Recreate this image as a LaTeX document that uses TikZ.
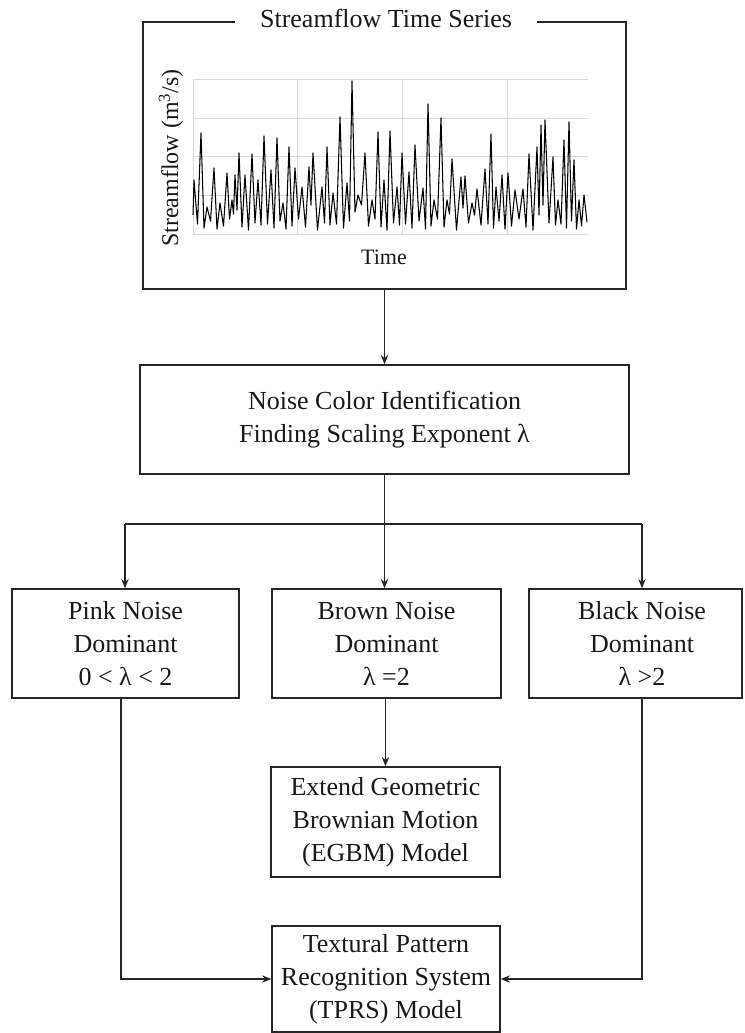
\documentclass[tikz,border=0pt]{standalone}
\usepackage{fontspec}
\setmainfont{Liberation Serif}
\usetikzlibrary{arrows.meta}
\begin{document}
\begin{tikzpicture}[x=0.75pt,y=-0.75pt,
  box/.style={draw=black!85, line width=1pt, rectangle, inner sep=0pt, font=\fontsize{19.5}{24.75}\selectfont, align=center, text=black!90},
  lbl/.style={font=\fontsize{19.5}{24.75}\selectfont, align=center, inner sep=0pt, text=black!90},
  arr/.style={line width=0.9pt, draw=black!85, -{Stealth[length=7pt,width=5.5pt]}},
  conn/.style={line width=0.9pt, draw=black!85},
  gridline/.style={draw=black!15, line width=0.6pt},
  series/.style={draw=black, line width=0.8pt, line join=round}]
\useasboundingbox (0,0) rectangle (744,1033);

% top panel
\node[draw=black!85, line width=1.4pt, minimum width=483*0.75pt, minimum height=267*0.75pt, inner sep=0pt] (ts) at (384.5,155.5) {};
\node[fill=white, inner xsep=19pt, inner ysep=2pt, font=\fontsize{19.5}{24}\selectfont, text=black!90] (title) at (386,18) {Streamflow Time Series};

\foreach \yy in {79,118,156,195,234} \draw[gridline] (193,\yy) -- (588,\yy);
\foreach \xx in {193,297,402,507} \draw[gridline] (\xx,79) -- (\xx,234);

\draw[series] (193,215)
 -- (194,180) -- (197.5,224) -- (201,133) -- (204,228) -- (207,207) -- (210.5,221)
 -- (214,168) -- (217,229) -- (220,203) -- (223.5,226) -- (227,173) -- (229.5,219)
 -- (232,200) -- (233.5,214) -- (235,175) -- (237,210) -- (239,153) -- (242,227)
 -- (245,175) -- (248.5,230) -- (252,154) -- (255,223) -- (258,180) -- (261,225)
 -- (264,136) -- (267.5,224) -- (271,170) -- (274,228) -- (277,138) -- (280,221)
 -- (283,203) -- (286,229) -- (289,147) -- (292,226) -- (295,168) -- (298.5,219)
 -- (302,187) -- (305.5,227) -- (309,167) -- (311,205) -- (313,153) -- (317.5,230)
 -- (322,187) -- (324.5,223) -- (327,147) -- (330,225) -- (333,193) -- (336.5,224)
 -- (340,117) -- (343.5,228) -- (347,183) -- (349.5,221) -- (352,81) -- (355,212)
 -- (358,195) -- (361.5,205) -- (365,153) -- (368.5,226) -- (372,200) -- (375,219)
 -- (378,132) -- (381,227) -- (384,180) -- (387,230) -- (390,131) -- (393.5,223)
 -- (397,187) -- (399.5,225) -- (402,153) -- (405.5,224) -- (409,172) -- (412,228)
 -- (415,145) -- (419,221) -- (423,188) -- (425.5,229) -- (428,104) -- (431,226)
 -- (434,200) -- (437.5,219) -- (441,118) -- (444,227) -- (447,200) -- (449.5,214)
 -- (452,159) -- (456.5,230) -- (461,177) -- (463,208) -- (465,176) -- (468.5,223)
 -- (472,203) -- (474.5,215) -- (477,189) -- (481,225) -- (485,169) -- (488,224)
 -- (491,134) -- (493.5,228) -- (496,187) -- (499,221) -- (502,175) -- (505,229)
 -- (508,173) -- (511.5,226) -- (515,190) -- (519,219) -- (523,189) -- (526,227)
 -- (529,154) -- (533,230) -- (537,147) -- (539,215) -- (541,125) -- (543,205)
 -- (545,120) -- (549,223) -- (553,157) -- (555.5,225) -- (558,200) -- (561,224)
 -- (564,140) -- (566.5,228) -- (569,122) -- (571.5,221) -- (574,160) -- (576.5,229)
 -- (579,200) -- (581.5,226) -- (584,195) -- (587,222);

\node[rotate=90, font=\fontsize{18}{20}\selectfont, inner sep=0pt, text=black!90] (ylab) at (171,158) {Streamflow (m\textsuperscript{3}/s)};
\node[font=\fontsize{16.5}{18}\selectfont, inner sep=0pt, text=black!90] (tlab) at (384,257) {Time};

% boxes
\node[box, minimum width=489*0.75pt, minimum height=109*0.75pt] (noise) at (384.5,419.5)
  {Noise Color Identification\\Finding Scaling Exponent λ};
\node[box, minimum width=227*0.75pt, minimum height=109*0.75pt] (pink) at (125.5,643.5)
  {Pink Noise\\Dominant\\0 < λ < 2};
\node[box, minimum width=229*0.75pt, minimum height=109*0.75pt] (brown) at (386.5,643.5)
  {Brown Noise\\Dominant\\λ =2};
\node[box, minimum width=213*0.75pt, minimum height=109*0.75pt] (black) at (635.5,643.5) {};
\node[lbl] (blacktxt) at (642,643.5) {Black Noise\\Dominant\\λ >2};
\node[box, minimum width=229*0.75pt, minimum height=110*0.75pt] (egbm) at (385.5,822)
  {Extend Geometric\\Brownian Motion\\(EGBM) Model};
\node[box, minimum width=228*0.75pt, minimum height=106*0.75pt] (tprs) at (386,979)
  {Textural Pattern\\Recognition System\\(TPRS) Model};

% connectors
\draw[arr] (ts.south) -- (noise.north);
\coordinate (bL) at (125,524);
\coordinate (bR) at (642,524);
\draw[conn] (bL) -- (bR);
\draw[arr] (noise.south) -- (noise.south |- brown.north);
\draw[arr] (bL) -- (bL |- pink.north);
\draw[arr] (bR) -- (bR |- black.north);
\draw[arr] (brown.south -| egbm.north) -- (egbm.north);
\draw[arr] ([xshift=-3.4pt]pink.south) |- (tprs.west);
\draw[arr] (black.south -| bR) |- (tprs.east);
\end{tikzpicture}
\end{document}
